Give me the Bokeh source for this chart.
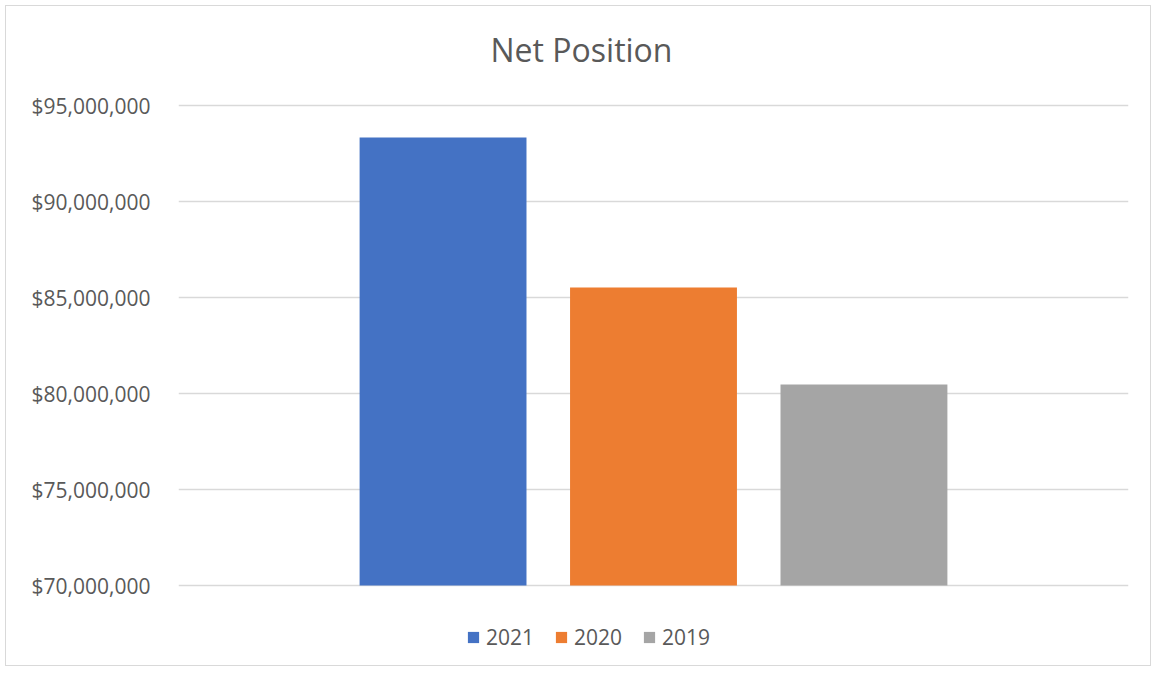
from bokeh.plotting import figure
from bokeh.models import Range1d, NumeralTickFormatter, Legend, LegendItem, FixedTicker, Label
from bokeh.embed import file_html
from bokeh.resources import INLINE

title = "Net Position"
years = ["2021", "2020", "2019"]
values = [93_330_000, 85_520_000, 80_470_000]
colors = ["#4472C4", "#ED7D31", "#A5A5A5"]
y_ticks = [70_000_000, 75_000_000, 80_000_000, 85_000_000, 90_000_000, 95_000_000]
y_min, y_max = 70_000_000, 95_000_000

FONT = "Open Sans"
TXT = "#595959"

# frame covers nearly the whole canvas; title and legend sit inside it
W, H = 1146, 661
TOP, BOTTOM, LEFT, RIGHT = 8, 8, 172, 24
AXIS_TOP_PX = 99      # canvas top -> y_max gridline
AXIS_PX = 480         # pixels between y_min and y_max gridlines
frame_h = H - TOP - BOTTOM
px_per_unit = AXIS_PX / (y_max - y_min)
y_end = y_max + (AXIS_TOP_PX - TOP) / px_per_unit
y_start = y_end - frame_h / px_per_unit

p = figure(width=W, height=H, output_backend="svg", toolbar_location=None,
           x_range=Range1d(-2.257, 2.257), y_range=Range1d(y_start, y_end),
           min_border_left=LEFT, min_border_right=RIGHT, min_border_top=TOP, min_border_bottom=BOTTOM)
p.outline_line_color = None
p.background_fill_color = "white"
p.border_fill_color = "white"
p.styles = {"border": "1px solid #d9d9d9", "margin-left": "5px", "margin-top": "5px"}

xs = [i - (len(years) - 1) / 2 for i in range(len(years))]
renderers = []
for x, v, c in zip(xs, values, colors):
    r = p.vbar(x=[x], top=[v], bottom=y_min, width=0.793, fill_color=c, line_color=None)
    renderers.append(r)

# axes
p.xaxis.visible = False
p.yaxis.ticker = FixedTicker(ticks=y_ticks)
p.yaxis.formatter = NumeralTickFormatter(format="$0,0")
p.yaxis.axis_line_color = None
p.yaxis.major_tick_line_color = None
p.yaxis.minor_tick_line_color = None
p.yaxis.major_label_text_font = FONT
p.yaxis.major_label_text_font_size = "21px"
p.yaxis.major_label_text_color = TXT
p.yaxis.major_label_standoff = 22
p.xgrid.visible = False
p.ygrid.ticker = FixedTicker(ticks=y_ticks)
p.ygrid.grid_line_color = "#D9D9D9"
p.ygrid.grid_line_width = 1.5

# title as a label inside the frame
p.add_layout(Label(x=403, y=frame_h - 35, x_units="screen", y_units="screen", text=title,
                   text_font=FONT, text_font_size="32px", text_color=TXT,
                   text_align="center", text_baseline="middle"))

legend = Legend(items=[LegendItem(label=y, renderers=[r]) for y, r in zip(years, renderers)],
                orientation="horizontal", location=(288, 8),
                glyph_width=14, glyph_height=14, label_standoff=6, spacing=20,
                label_text_font=FONT, label_text_font_size="21px", label_text_color=TXT,
                background_fill_alpha=0, border_line_color=None, padding=0, margin=0)
p.add_layout(legend, "center")

open("out.html", "w").write(file_html(p, INLINE))
